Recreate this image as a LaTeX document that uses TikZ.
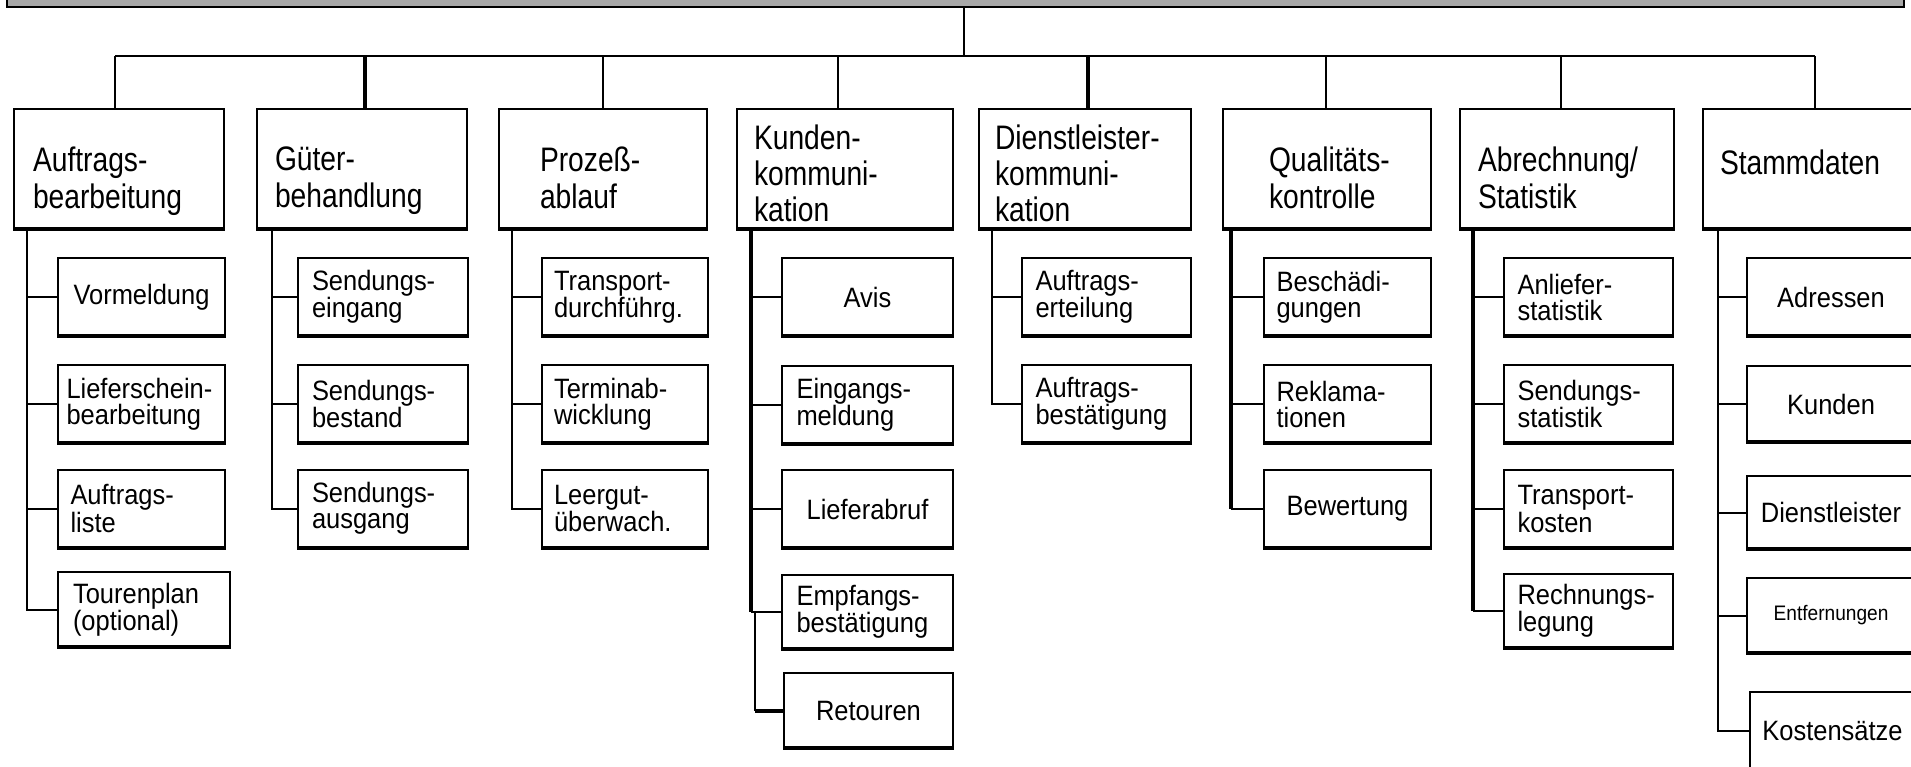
\documentclass[tikz,border=0pt]{standalone}
\usepackage{fontspec}
\newfontfamily\headfont{Liberation Sans}[FakeStretch=0.83]
\newfontfamily\itemfont{Liberation Sans}[FakeStretch=0.91]
\definecolor{barfill}{RGB}{168,168,168}
\begin{document}
\begin{tikzpicture}[x=1pt,y=-1pt,
  conn/.style={line width=2pt},
  heavy/.style={line width=4pt},
  mainbox/.style={draw, line width=2pt, rectangle, inner sep=0pt, outer sep=0pt, minimum height=120pt},
  subbox/.style={draw, line width=2pt, rectangle, inner sep=0pt, outer sep=0pt, minimum height=78pt,
    align=center, font=\itemfont\fontsize{28pt}{26pt}\selectfont},
  subtwo/.style={subbox, text width=142pt, align=left},
  headtext/.style={anchor=north west, inner sep=0pt, outer sep=0pt, align=left,
    font=\headfont\fontsize{34pt}{37pt}\selectfont, execute at begin node={\rule{0pt}{27pt}}},
  headtextiii/.style={headtext, font=\headfont\fontsize{34pt}{36pt}\selectfont},
  bottomedge/.style={line width=4pt}
]
\useasboundingbox (0,0) rectangle (1911,766);
\clip (0,0) rectangle (1911,766);

% root bar (its label lies above the visible area)
\node[draw, line width=2.5pt, fill=barfill, minimum width=1897pt, minimum height=60pt,
  inner sep=0pt, outer sep=0pt, anchor=south west] (root) at (7,7) {};

% first level
\node[mainbox, minimum width=210pt] (m1) at (119,169) {};
\node[mainbox, minimum width=210pt] (m2) at (362,169) {};
\node[mainbox, minimum width=208pt] (m3) at (603,169) {};
\node[mainbox, minimum width=216pt] (m4) at (845,169) {};
\node[mainbox, minimum width=212pt] (m5) at (1085,169) {};
\node[mainbox, minimum width=208pt] (m6) at (1327,169) {};
\node[mainbox, minimum width=214pt] (m7) at (1567,169) {};
\node[mainbox, minimum width=212pt] (m8) at (1809,169) {};

\node[headtext] (t1) at (33,147) {Auftrags-\\bearbeitung};
\node[headtext] (t2) at (275,147) {Güter-\\behandlung};
\node[headtext] (t3) at (540,147) {Prozeß-\\ablauf};
\node[headtextiii] (t4) at (754,125) {Kunden-\\kommuni-\\kation};
\node[headtextiii] (t5) at (995,125) {Dienstleister-\\kommuni-\\kation};
\node[headtext] (t6) at (1269,147) {Qualitäts-\\kontrolle};
\node[headtext] (t7) at (1478,147) {Abrechnung/\\Statistik};
\node[headtext] (t8) at (1720,147) {Stammdaten};

% second level
\node[subbox, minimum width=167pt] (s11) at (141.5,297) {Vormeldung};
\node[subtwo, minimum width=167pt, text width=150pt] (s12) at (141.5,404) {Lieferschein-\\bearbeitung};
\node[subtwo, minimum width=167pt] (s13) at (141.5,508.5) {Auftrags-\\liste};
\node[subtwo, minimum width=172pt, minimum height=75pt] (s14) at (144,609.5) {Tourenplan\\(optional)};

\node[subtwo, minimum width=170pt] (s21) at (383,297) {Sendungs-\\eingang};
\node[subtwo, minimum width=170pt] (s22) at (383,404) {Sendungs-\\bestand};
\node[subtwo, minimum width=170pt] (s23) at (383,508.5) {Sendungs-\\ausgang};

\node[subtwo, minimum width=166pt] (s31) at (625,297) {Transport-\\durchführg.};
\node[subtwo, minimum width=166pt] (s32) at (625,404) {Terminab-\\wicklung};
\node[subtwo, minimum width=166pt] (s33) at (625,508.5) {Leergut-\\überwach.};

\node[subbox, minimum width=171pt] (s41) at (867.5,297) {Avis};
\node[subtwo, minimum width=171pt] (s42) at (867.5,404.5) {Eingangs-\\meldung};
\node[subbox, minimum width=171pt] (s43) at (867.5,509) {Lieferabruf};
\node[subtwo, minimum width=171pt, minimum height=74pt] (s44) at (867.5,612) {Empfangs-\\bestätigung};
\node[subbox, minimum width=169pt, minimum height=75pt] (s45) at (868.5,710.5) {Retouren};

\node[subtwo, minimum width=169pt] (s51) at (1106.5,297) {Auftrags-\\erteilung};
\node[subtwo, minimum width=169pt] (s52) at (1106.5,404) {Auftrags-\\bestätigung};

\node[subtwo, minimum width=167pt] (s61) at (1347.5,297) {Beschädi-\\gungen};
\node[subtwo, minimum width=167pt] (s62) at (1347.5,404) {Reklama-\\tionen};
\node[subbox, minimum width=167pt] (s63) at (1347.5,508.5) {Bewertung};

\node[subtwo, minimum width=169pt] (s71) at (1588.5,297) {Anliefer-\\statistik};
\node[subtwo, minimum width=169pt] (s72) at (1588.5,404) {Sendungs-\\statistik};
\node[subtwo, minimum width=169pt] (s73) at (1588.5,509) {Transport-\\kosten};
\node[subtwo, minimum width=169pt, minimum height=74pt] (s74) at (1588.5,611) {Rechnungs-\\legung};

\node[subbox, minimum width=168pt] (s81) at (1831,297) {Adressen};
\node[subbox, minimum width=168pt, minimum height=76pt] (s82) at (1831,404) {Kunden};
\node[subbox, minimum width=168pt, minimum height=73pt] (s83) at (1831,512.5) {Dienstleister};
\node[subbox, minimum width=168pt, minimum height=75pt,
  font=\itemfont\fontsize{21pt}{24pt}\selectfont] (s84) at (1831,615.5) {Entfernungen};
\node[subbox, minimum width=165pt] (s85) at (1832.5,731) {Kostensätze};

% heavier lower edges of the boxes
\foreach \n in {m1,m2,m3,m4,m5,m6,m7,m8,
  s11,s12,s13,s14,s21,s22,s23,s31,s32,s33,s41,s42,s43,s44,s45,
  s51,s52,s61,s62,s63,s71,s72,s73,s74,s81,s82,s83,s84,s85}
  \draw[bottomedge] ([xshift=-1pt]\n.south west) -- ([xshift=1pt]\n.south east);

% root to first level
\coordinate (hub) at (964,56);
\coordinate (d1) at (115,56);
\coordinate (d2) at (365,56);
\coordinate (d3) at (603,56);
\coordinate (d4) at (838,56);
\coordinate (d5) at (1088,56);
\coordinate (d6) at (1326,56);
\coordinate (d7) at (1561,56);
\coordinate (d8) at (1815,56);
\draw[conn] (root.south -| hub) -- (hub);
\draw[conn] (d1) -- (d8);
\draw[conn] (d1) -- (d1 |- m1.north);
\draw[heavy] (d2) -- (d2 |- m2.north);
\draw[conn] (d3) -- (d3 |- m3.north);
\draw[conn] (d4) -- (d4 |- m4.north);
\draw[heavy] (d5) -- (d5 |- m5.north);
\draw[conn] (d6) -- (d6 |- m6.north);
\draw[conn] (d7) -- (d7 |- m7.north);
\draw[conn] (d8) -- (d8 |- m8.north);

% first level to second level
\coordinate (v1) at (27,0);
\coordinate (v2) at (272,0);
\coordinate (v3) at (512,0);
\coordinate (v4) at (751,0);
\coordinate (v4b) at (755,0);
\coordinate (v5) at (992,0);
\coordinate (v6) at (1231,0);
\coordinate (v7) at (1473,0);
\coordinate (v8) at (1718,0);

\draw[conn] (m1.south -| v1) |- (s14.west);
\foreach \s in {s11,s12,s13} \draw[conn] (\s.west -| v1) -- (\s.west);

\draw[conn] (m2.south -| v2) |- (s23.west);
\foreach \s in {s21,s22} \draw[conn] (\s.west -| v2) -- (\s.west);

\draw[conn] (m3.south -| v3) |- (s33.west);
\foreach \s in {s31,s32} \draw[conn] (\s.west -| v3) -- (\s.west);

\draw[heavy] (m4.south -| v4) -- (s44.west -| v4);
\foreach \s in {s41,s42,s43,s44} \draw[conn] (\s.west -| v4) -- (\s.west);
\draw[conn] (s44.west -| v4b) -- (s45.west -| v4b);
\draw[heavy] (s45.west -| v4b) -- (s45.west);

\draw[conn] (m5.south -| v5) |- (s52.west);
\draw[conn] (s51.west -| v5) -- (s51.west);

\draw[heavy] (m6.south -| v6) -- (s63.west -| v6);
\foreach \s in {s61,s62,s63} \draw[conn] (\s.west -| v6) -- (\s.west);

\draw[heavy] (m7.south -| v7) -- (s74.west -| v7);
\foreach \s in {s71,s72,s73,s74} \draw[conn] (\s.west -| v7) -- (\s.west);

\draw[conn] (m8.south -| v8) |- (s85.west);
\foreach \s in {s81,s82,s83,s84} \draw[conn] (\s.west -| v8) -- (\s.west);
\end{tikzpicture}
\end{document}
